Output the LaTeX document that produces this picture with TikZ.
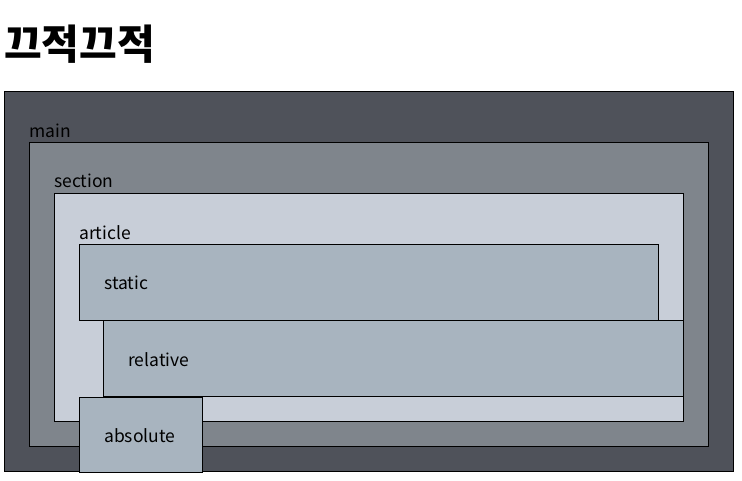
\documentclass[tikz,border=0pt]{standalone}
\usepackage{fontspec}
\setmainfont{Noto Sans CJK KR}
\begin{document}
\begin{tikzpicture}[x=1pt,y=-1pt,
  box/.style={draw=black,line width=1pt,anchor=north west,inner sep=0pt,outer sep=0pt},
  lbl/.style={anchor=base west,inner sep=0pt,font=\fontsize{17.5}{20}\selectfont,text=black}]
\definecolor{cmain}{HTML}{4F525A}
\definecolor{csec}{HTML}{7F858C}
\definecolor{cart}{HTML}{C8CED8}
\definecolor{cbox}{HTML}{A8B4BF}
\useasboundingbox (0,0) rectangle (742,481);
\fill[white] (0,0) rectangle (742,481);
\node[anchor=base west,inner sep=0pt,font=\fontsize{41}{44}\selectfont\bfseries] (title) at (4,59.5) {끄적끄적};
\node[box,fill=cmain,minimum width=729pt,minimum height=379pt] (main) at (4,92) {};
\node[lbl] (lmain) at (29,138) {main};
\node[box,fill=csec,minimum width=679pt,minimum height=303pt] (section) at (29,143) {};
\node[lbl] (lsec) at (54,188) {section};
\node[box,fill=cart,minimum width=629pt,minimum height=227pt] (article) at (54,194) {};
\node[lbl] (lart) at (79,240) {article};
\node[box,fill=cbox,minimum width=579pt,minimum height=75pt] (static) at (79,245) {};
\node[lbl] (lsta) at (104,290) {static};
\node[box,fill=cbox,minimum width=580pt,minimum height=76pt] (relative) at (103,320) {};
\node[lbl] (lrel) at (128,366) {relative};
\node[box,fill=cbox,minimum width=123pt,minimum height=75pt] (absolute) at (79,397) {};
\node[lbl] (labs) at (104,442) {absolute};
\end{tikzpicture}
\end{document}
